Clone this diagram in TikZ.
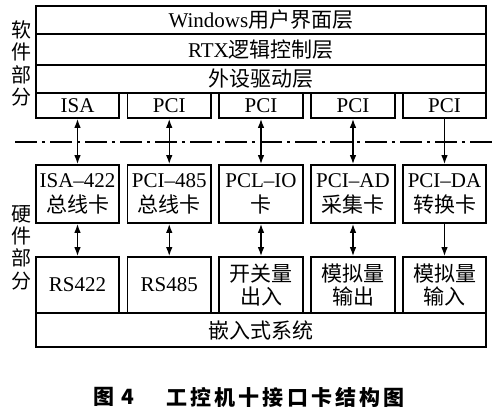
\documentclass[tikz,border=0pt]{standalone}
\usepackage{fontspec}
\setmainfont{Liberation Serif}
\newfontfamily\cjk{Noto Sans CJK SC}
\usetikzlibrary{arrows.meta}
\begin{document}
\begin{tikzpicture}[x=1pt,y=-1pt,
  box/.style={draw,line width=1.6pt,inner sep=0pt,minimum width=83.5pt,align=center,
    font=\fontsize{21}{25}\selectfont},
  layer/.style={draw,line width=1.6pt,inner sep=0pt,minimum width=450pt,
    font=\fontsize{21}{25}\selectfont},
  conn/.style={line width=1.4pt,{Latex[length=9pt,width=6.5pt]}-{Latex[length=9pt,width=6.5pt]}},
  down/.style={line width=1.4pt,-{Latex[length=9pt,width=6.5pt]}},
  side/.style={font=\cjk\fontsize{20}{22.4}\selectfont,align=center,inner sep=0pt},
  captext/.style={font=\cjk\bfseries\fontsize{21}{25}\selectfont,inner sep=0pt}]
\useasboundingbox (0,0) rectangle (495,411);
\fill[white] (0,0) rectangle (495,411);

% software layers
\node[layer,minimum height=28pt] (win) at (261,20) {Windows{\cjk 用户界面层}};
\node[layer,minimum height=31pt] (rtx) at (261,49.5) {RTX{\cjk 逻辑控制层}};
\node[layer,minimum height=28pt] (drv) at (261,79) {{\cjk 外设驱动层}};

% bus boxes
\node[box,minimum height=25pt] (b1) at (77.5,105.5) {ISA};
\node[box,minimum height=25pt] (b2) at (169.25,105.5) {PCI};
\node[box,minimum height=25pt] (b3) at (261,105.5) {PCI};
\node[box,minimum height=25pt] (b4) at (353,105.5) {PCI};
\node[box,minimum height=25pt] (b5) at (444.5,105.5) {PCI};

% separation line
\coordinate (dl) at (15,142);
\coordinate (dr) at (493,142);
\draw[line width=1.4pt,dash pattern=on 22pt off 5pt on 3pt off 5pt] (dl) -- (dr);

% cards
\node[box,minimum height=58pt] (c1) at (77.5,194) {ISA--422\\{\cjk 总线卡}};
\node[box,minimum height=58pt] (c2) at (169.25,194) {PCI--485\\{\cjk 总线卡}};
\node[box,minimum height=58pt] (c3) at (261,194) {PCL--IO\\{\cjk 卡}};
\node[box,minimum height=58pt] (c4) at (353,194) {PCI--AD\\{\cjk 采集卡}};
\node[box,minimum height=58pt] (c5) at (444.5,194) {PCI--DA\\{\cjk 转换卡}};

% devices
\node[box,minimum height=56pt] (d1) at (77.5,285) {RS422};
\node[box,minimum height=56pt] (d2) at (169.25,285) {RS485};
\node[box,minimum height=56pt,font=\cjk\fontsize{21}{23}\selectfont] (d3) at (261,285) {开关量\\出入};
\node[box,minimum height=56pt,font=\cjk\fontsize{21}{23}\selectfont] (d4) at (353,285) {模拟量\\输出};
\node[box,minimum height=56pt,font=\cjk\fontsize{21}{23}\selectfont] (d5) at (444.5,285) {模拟量\\输入};

\node[layer,minimum height=34pt] (emb) at (261,330) {{\cjk 嵌入式系统}};

% connectors
\draw[conn] (b1.south) -- (c1.north);
\draw[conn] (b2.south) -- (c2.north);
\draw[conn] (b3.south) -- (c3.north);
\draw[conn] (b4.south) -- (c4.north);
\draw[down] (b5.south) -- (c5.north);
\draw[conn] (c1.south) -- (d1.north);
\draw[conn] (c2.south) -- (d2.north);
\draw[conn] (c3.south) -- (d3.north);
\draw[conn] (c4.south) -- (d4.north);
\draw[down] (c5.south) -- (d5.north);

% side labels
\node[side] (sw) at (22,63.5) {软\\件\\部\\分};
\node[side] (hw) at (21,247.5) {硬\\件\\部\\分};

% caption
\node[captext] (capa) at (114,397) {图\hspace{7pt}4};
\node[captext] (capb) at (285.5,397) {\addfontfeature{LetterSpace=15}工控机十接口卡结构图};
\end{tikzpicture}
\end{document}
